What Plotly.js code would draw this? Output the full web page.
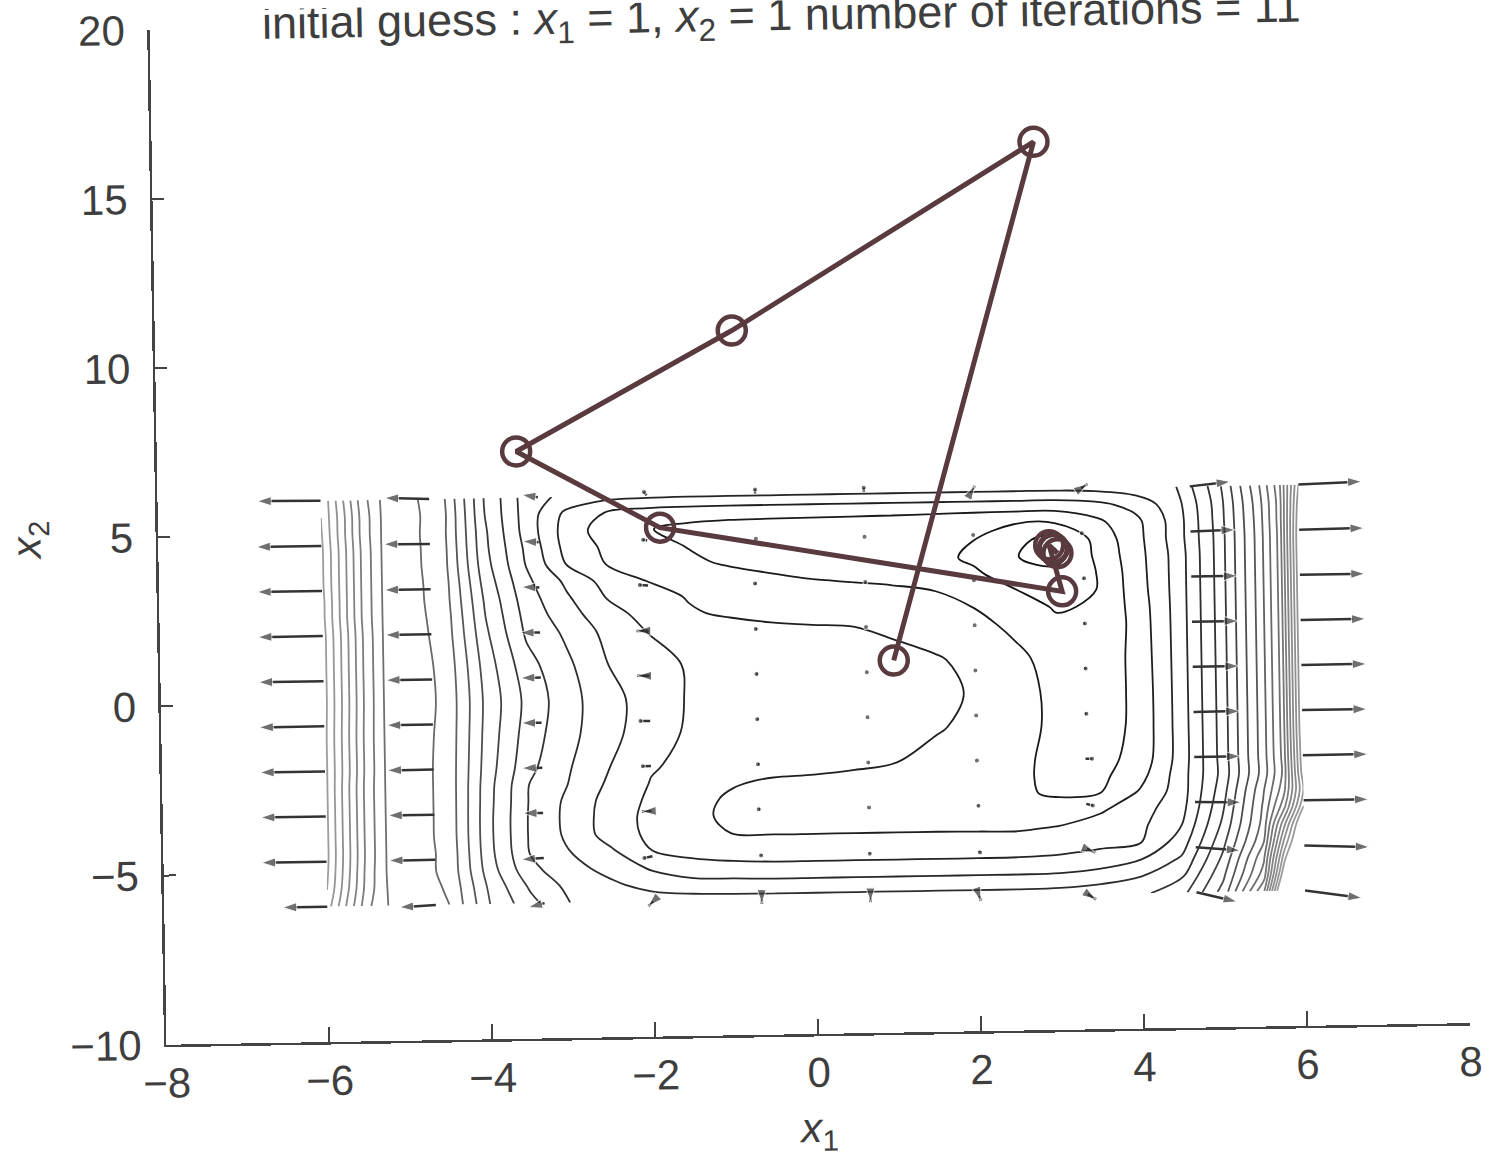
<!DOCTYPE html>
<html>
<head>
<meta charset="utf-8">
<script src="https://cdn.plot.ly/plotly-3.0.1.min.js"></script>
<style>
  html, body { margin: 0; padding: 0; background: #fff; overflow: hidden; }
  #chart { width: 1490px; height: 1164px; transform-origin: 810px 526px; transform: rotate(-0.95deg); }
</style>
</head>
<body>
<div id="chart"></div>
<script>
// Sample grid of the objective surface (contour level index at each node)
const gridX = [-6, -5.75, -5.5, -5.25, -5, -4.5, -4, -3.5, -3, -2.5, -2, -1.5, -1, -0.5, 0, 0.5, 1, 1.5, 2, 2.5, 3, 3.5, 4, 4.5, 5, 5.5, 5.75, 6];
const gridY = [-6, -5.5, -5, -4.5, -4, -3.5, -3, -2.5, -2, -1, 0, 1, 2, 2.5, 3, 3.5, 4, 4.5, 5, 5.5, 6];
const levelGrid = [
  [21.5, 18.8, 16.2, 15.0, 14.6, 14.0, 11.0, 9.3, 7.95, 7.7, 7.55, 7.45, 7.4, 7.4, 7.4, 7.4, 7.4, 7.4, 7.4, 7.4, 7.45, 7.55, 7.8, 8.7, 11.4, 17.0, 25.0, 30.0],
  [22.0, 19.2, 16.5, 14.95, 14.6, 13.88, 10.78, 8.83, 7.67, 7.19, 6.6, 6.35, 6.3, 6.25, 6.25, 6.25, 6.25, 6.25, 6.25, 6.25, 6.3, 6.6, 7.0, 7.9, 10.8, 15.5, 23.0, 28.0],
  [22.2, 19.4, 16.6, 14.9, 14.55, 13.75, 10.46, 8.25, 7.36, 6.62, 5.85, 5.3, 5.2, 5.15, 5.15, 5.15, 5.15, 5.15, 5.15, 5.15, 5.2, 5.4, 6.0, 7.15, 10.2, 14.8, 21.5, 27.0],
  [22.3, 19.5, 16.7, 14.9, 14.55, 13.75, 10.3, 7.96, 7.0, 6.14, 5.0, 4.7, 4.55, 4.5, 4.5, 4.5, 4.5, 4.5, 4.5, 4.55, 4.65, 4.8, 5.0, 6.5, 9.67, 13.83, 20.0, 25.0],
  [22.3, 19.5, 16.7, 14.9, 14.55, 13.7, 10.25, 7.9, 6.74, 5.53, 4.77, 4.32, 3.95, 3.9, 3.9, 3.9, 3.9, 3.9, 3.88, 3.85, 4.04, 4.42, 4.8, 6.0, 9.17, 13.33, 18.5, 24.0],
  [22.3, 19.5, 16.7, 14.9, 14.55, 13.7, 10.25, 7.9, 6.68, 5.5, 4.72, 4.16, 3.85, 3.72, 3.65, 3.6, 3.55, 3.5, 3.45, 3.38, 3.32, 3.85, 4.6, 5.65, 8.8, 13.1, 16.5, 22.0],
  [22.3, 19.5, 16.7, 14.9, 14.55, 13.7, 10.3, 7.95, 6.73, 5.58, 4.82, 4.3, 3.85, 3.7, 3.65, 3.6, 3.55, 3.45, 3.3, 3.1, 2.9, 2.95, 4.1, 5.5, 8.5, 12.8, 15.5, 21.0],
  [22.3, 19.5, 16.7, 14.9, 14.55, 13.7, 10.35, 8.0, 6.95, 5.8, 4.95, 4.5, 4.1, 3.9, 3.85, 3.8, 3.7, 3.55, 3.4, 3.1, 2.85, 2.75, 3.65, 5.5, 8.25, 12.35, 15.1, 21.6],
  [22.3, 19.6, 16.8, 14.9, 14.55, 13.7, 10.46, 8.25, 7.06, 6.0, 5.09, 4.75, 4.55, 4.4, 4.3, 4.15, 4.02, 3.75, 3.45, 3.15, 2.8, 2.65, 3.35, 5.4, 8.3, 12.4, 15.2, 21.8],
  [22.3, 19.6, 16.8, 14.9, 14.55, 13.75, 10.6, 8.52, 7.28, 6.3, 5.44, 4.85, 4.65, 4.5, 4.4, 4.3, 4.2, 4.08, 3.8, 3.3, 2.8, 2.5, 3.25, 5.4, 8.3, 12.4, 15.25, 22.0],
  [22.4, 19.7, 16.9, 14.9, 14.6, 13.8, 10.7, 8.7, 7.35, 6.33, 5.53, 4.9, 4.7, 4.55, 4.45, 4.35, 4.25, 4.12, 3.95, 3.35, 2.75, 2.45, 3.25, 5.4, 8.3, 12.4, 15.25, 22.0],
  [22.4, 19.7, 16.9, 14.9, 14.6, 13.75, 10.52, 8.38, 7.19, 6.0, 5.36, 4.9, 4.7, 4.55, 4.45, 4.35, 4.25, 4.1, 3.75, 3.2, 2.65, 2.35, 3.3, 5.4, 8.3, 12.4, 15.25, 22.0],
  [22.4, 19.7, 16.9, 14.9, 14.6, 13.6, 10.18, 7.84, 6.79, 5.69, 4.95, 4.6, 4.35, 4.15, 4.08, 4.02, 3.85, 3.55, 3.25, 2.8, 2.2, 2.1, 3.35, 5.4, 8.3, 12.4, 15.25, 22.0],
  [22.3, 19.6, 16.8, 14.9, 14.55, 13.55, 10.0, 7.67, 6.43, 5.36, 4.67, 4.1, 3.85, 3.75, 3.65, 3.55, 3.45, 3.3, 3.0, 2.55, 1.9, 2.1, 3.4, 5.4, 8.3, 12.4, 15.25, 22.0],
  [22.3, 19.6, 16.8, 14.9, 14.55, 13.46, 9.84, 7.48, 6.14, 4.95, 4.35, 3.93, 3.75, 3.6, 3.45, 3.3, 3.2, 3.05, 2.6, 2.05, 1.5, 2.0, 3.5, 5.4, 8.3, 12.4, 15.25, 22.0],
  [22.2, 19.6, 16.8, 14.9, 14.55, 13.42, 9.61, 7.26, 5.8, 4.6, 3.95, 3.65, 3.4, 3.12, 2.95, 2.85, 2.75, 2.55, 2.15, 1.6, 1.3, 2.0, 3.55, 5.4, 8.3, 12.4, 15.25, 22.0],
  [22.2, 19.6, 16.8, 14.9, 14.55, 13.33, 9.39, 7.0, 5.0, 3.95, 3.55, 3.2, 2.85, 2.7, 2.6, 2.5, 2.4, 2.25, 1.85, 1.05, 0.6, 2.15, 3.6, 5.4, 8.3, 12.4, 15.25, 22.0],
  [22.2, 19.6, 16.8, 14.9, 14.55, 13.3, 9.25, 6.86, 4.7, 3.8, 3.35, 2.95, 2.7, 2.6, 2.5, 2.4, 2.3, 2.15, 2.0, 1.3, 0.6, 2.3, 3.66, 5.5, 8.3, 12.4, 15.25, 22.0],
  [22.1, 19.5, 16.7, 14.9, 14.55, 13.25, 9.19, 6.67, 4.6, 3.5, 3.05, 2.75, 2.6, 2.55, 2.5, 2.45, 2.4, 2.3, 2.15, 2.05, 2.05, 2.75, 3.75, 5.5, 8.35, 12.45, 15.3, 21.8],
  [22.0, 19.5, 16.7, 14.9, 14.55, 13.3, 9.05, 6.63, 4.8, 3.93, 3.6, 3.5, 3.45, 3.45, 3.45, 3.45, 3.45, 3.45, 3.45, 3.45, 3.45, 3.7, 4.36, 5.65, 8.4, 12.55, 15.3, 21.5],
  [22.0, 19.3, 16.5, 14.86, 14.5, 13.2, 9.0, 6.6, 5.7, 5.35, 5.25, 5.2, 5.2, 5.2, 5.2, 5.2, 5.2, 5.2, 5.2, 5.2, 5.2, 5.3, 5.6, 6.0, 8.6, 12.8, 15.5, 21.0]
];

// Gradient field (quiver) on a 10 x 10 grid, arrow components in axis units
const quivX = [-6, -4.667, -3.333, -2, -0.667, 0.667, 2, 3.333, 4.667, 6];
const quivY = [-6, -4.667, -3.333, -2, -0.667, 0.667, 2, 3.333, 4.667, 6];
const quivU = [
  [-0.55, -0.45, -0.2, -0.06, 0, 0, 0.02, 0.1, 0.5, 0.7],
  [-0.8, -0.57, -0.28, -0.1, 0, 0, 0.02, 0.1, 0.55, 0.8],
  [-0.8, -0.57, -0.25, -0.12, -0.02, 0, 0.01, 0.08, 0.57, 0.8],
  [-0.8, -0.57, -0.25, -0.1, -0.02, 0, 0, 0.08, 0.57, 0.8],
  [-0.8, -0.57, -0.25, -0.12, -0.02, 0, 0, 0.02, 0.57, 0.8],
  [-0.8, -0.57, -0.25, -0.15, -0.02, 0, 0, 0.02, 0.57, 0.8],
  [-0.8, -0.57, -0.25, -0.15, -0.02, 0, 0, 0.02, 0.57, 0.8],
  [-0.8, -0.57, -0.22, -0.1, -0.02, 0, 0, 0.02, 0.57, 0.8],
  [-0.8, -0.57, -0.2, -0.05, 0, 0, 0, 0, 0.55, 0.8],
  [-0.78, -0.55, -0.2, -0.03, 0, 0, 0.03, 0.08, 0.5, 0.78]
];
const quivV = [
  [0, -0.05, -0.12, -0.14, -0.13, -0.13, -0.15, -0.16, -0.3, -0.25],
  [0, 0, -0.03, -0.05, -0.03, -0.03, -0.05, -0.1, -0.12, -0.08],
  [0, 0, 0, -0.01, 0, 0, 0, -0.05, -0.03, 0],
  [0, 0, 0, 0, 0, 0, 0, 0, 0, 0],
  [0, 0, 0, 0, 0, 0, 0, 0, 0, 0],
  [0, 0, 0, 0.01, 0, 0, 0, 0, 0, 0],
  [0, 0, 0, 0, 0, 0, 0, 0, 0, 0],
  [0, 0, 0.02, 0.02, 0.01, 0, 0, 0, 0, 0],
  [0, 0.02, 0.04, 0.02, 0, 0, 0, 0, 0.03, 0.02],
  [0.02, 0.05, 0.08, 0.1, 0.12, 0.12, 0.12, 0.12, 0.12, 0.06]
];

// Newton iterates: initial guess followed by 11 iterations
const iterX1 = [1.0, 2.82, -0.92, -3.59, -1.84, 3.08, 2.93, 3.03, 2.98, 2.98, 2.98, 2.98];
const iterX2 = [1.0, 16.26, 10.83, 7.36, 5.04, 2.96, 4.33, 4.09, 4.24, 4.22, 4.22, 4.22];

const xTicks = [-8, -6, -4, -2, 0, 2, 4, 6, 8];
const yTicks = [-10, -5, 0, 5, 10, 15, 20];
const titleText = 'initial guess : <i>x</i><sub>1</sub> = 1, <i>x</i><sub>2</sub> = 1 number of iterations = 11';

// Build quiver shafts + heads as one polyline with gaps
const shaftX = [], shaftY = [], headSize = [], headSymbol = [];
quivY.forEach((yv, i) => {
  quivX.forEach((xv, j) => {
    const u = quivU[i][j], v = quivV[i][j];
    const len = Math.hypot(u, v);
    shaftX.push(xv, xv + u, null);
    shaftY.push(yv, yv + v, null);
    headSize.push(0, len > 0.12 ? 15 : 5, 0);
    headSymbol.push('circle', len > 0.12 ? 'arrow' : 'circle', 'circle');
  });
});

const ink = '#333333';
const pathColor = '#593a3e';

const traces = [
  {
    type: 'contour', x: gridX, y: gridY, z: levelGrid,
    autocontour: false,
    contours: { start: 1, end: 22, size: 1, coloring: 'lines', showlabels: false },
    line: { width: 1.8, smoothing: 1 },
    colorscale: [[0, '#111111'], [0.35, '#333333'], [0.6, '#666666'], [1, '#9c9c9c']],
    zmin: 0, zmax: 22, showscale: false, hoverinfo: 'skip'
  },
  {
    type: 'scatter', mode: 'lines+markers', x: shaftX, y: shaftY,
    line: { color: ink, width: 2.5 },
    marker: { symbol: headSymbol, size: headSize, color: ink, angleref: 'previous' },
    hoverinfo: 'skip', connectgaps: false
  },
  {
    type: 'scatter', mode: 'lines+markers', x: iterX1, y: iterX2,
    line: { color: pathColor, width: 5 },
    marker: { symbol: 'circle-open', size: 28, color: pathColor, line: { width: 4.5, color: pathColor } },
    hoverinfo: 'skip'
  }
];

const axisCommon = {
  ticks: 'inside', tickwidth: 2, tickcolor: '#444',
  showline: true, linecolor: '#444', linewidth: 2.5,
  showgrid: false, zeroline: false, mirror: false,
  ticklabeloverflow: 'allow',
  tickfont: { size: 42, color: '#3e3e3e' }
};

const layout = {
  width: 1490, height: 1164,
  margin: { l: 158, r: 28, t: 19, b: 130 },
  paper_bgcolor: '#ffffff', plot_bgcolor: '#ffffff',
  showlegend: false,
  font: { family: '"Liberation Sans", Arial, Helvetica, sans-serif', color: '#3e3e3e' },
  title: {
    text: titleText, font: { size: 45, color: '#3e3e3e' },
    xref: 'container', x: 0.53, xanchor: 'center',
    yref: 'container', y: 0.988, yanchor: 'middle'
  },
  xaxis: Object.assign({}, axisCommon, {
    range: [-8, 8], tickvals: xTicks, ticklen: 15,
    title: { text: '<i>x</i><sub>1</sub>', font: { size: 42, color: '#3e3e3e' }, standoff: 18 }
  }),
  yaxis: Object.assign({}, axisCommon, {
    range: [-10, 20], tickvals: yTicks, ticklen: 12, ticklabelstandoff: 14,
    title: { text: '<i>x</i><sub>2</sub>', font: { size: 42, color: '#3e3e3e' }, standoff: 8 }
  })
};

Plotly.newPlot('chart', traces, layout, { staticPlot: true, displayModeBar: false });
</script>
</body>
</html>
